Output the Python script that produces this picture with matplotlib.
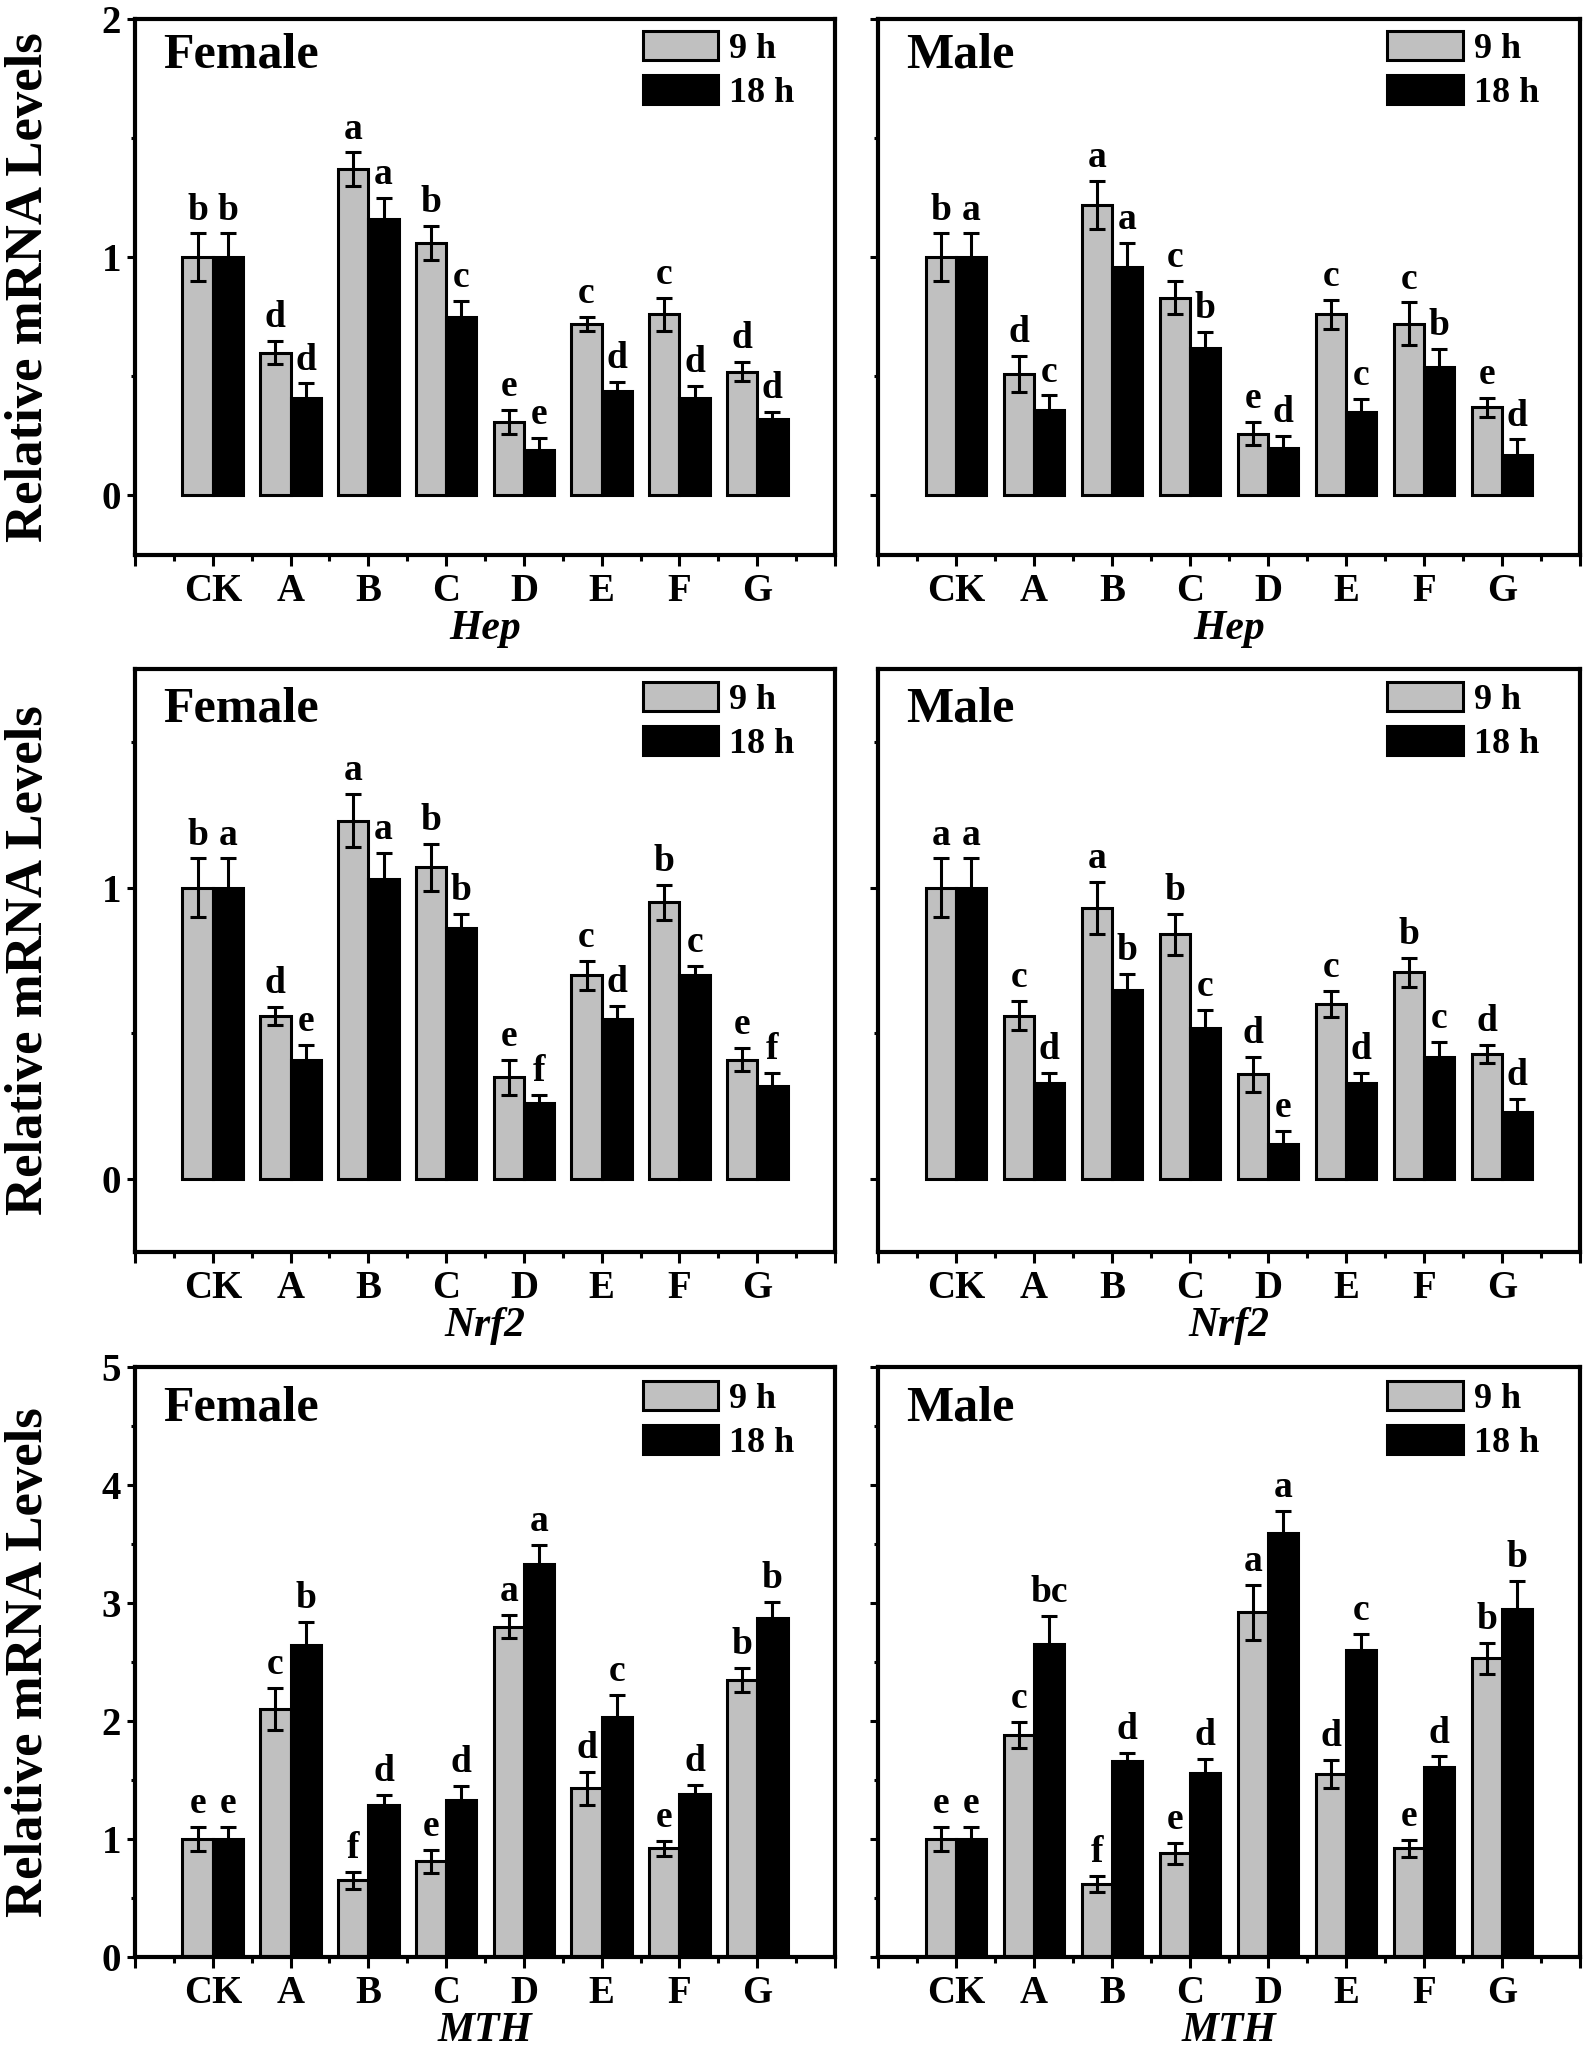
import matplotlib
matplotlib.use("Agg")
import matplotlib.pyplot as plt
import numpy as np
from matplotlib.ticker import FixedLocator

plt.rcParams['font.family'] = ['Liberation Serif', 'DejaVu Serif']
plt.rcParams['font.weight'] = 'bold'

categories = ['CK', 'A', 'B', 'C', 'D', 'E', 'F', 'G']
series_names = ['9 h', '18 h']

# Hep
hep_f_9 = [1.00, 0.60, 1.37, 1.06, 0.31, 0.72, 0.76, 0.52]
hep_f_9_err = [0.10, 0.05, 0.07, 0.07, 0.05, 0.03, 0.07, 0.04]
hep_f_18 = [1.00, 0.41, 1.16, 0.75, 0.19, 0.44, 0.41, 0.32]
hep_f_18_err = [0.10, 0.06, 0.09, 0.065, 0.05, 0.035, 0.05, 0.03]
hep_f_9_let = ['b', 'd', 'a', 'b', 'e', 'c', 'c', 'd']
hep_f_18_let = ['b', 'd', 'a', 'c', 'e', 'd', 'd', 'd']

hep_m_9 = [1.00, 0.51, 1.22, 0.83, 0.26, 0.76, 0.72, 0.37]
hep_m_9_err = [0.10, 0.075, 0.10, 0.07, 0.05, 0.06, 0.09, 0.04]
hep_m_18 = [1.00, 0.36, 0.96, 0.62, 0.20, 0.35, 0.54, 0.17]
hep_m_18_err = [0.10, 0.06, 0.10, 0.065, 0.05, 0.055, 0.075, 0.065]
hep_m_9_let = ['b', 'd', 'a', 'c', 'e', 'c', 'c', 'e']
hep_m_18_let = ['a', 'c', 'a', 'b', 'd', 'c', 'b', 'd']

# Nrf2
nrf_f_9 = [1.00, 0.56, 1.23, 1.07, 0.35, 0.70, 0.95, 0.41]
nrf_f_9_err = [0.10, 0.03, 0.09, 0.08, 0.06, 0.05, 0.06, 0.04]
nrf_f_18 = [1.00, 0.41, 1.03, 0.86, 0.26, 0.55, 0.70, 0.32]
nrf_f_18_err = [0.10, 0.05, 0.09, 0.05, 0.03, 0.045, 0.03, 0.045]
nrf_f_9_let = ['b', 'd', 'a', 'b', 'e', 'c', 'b', 'e']
nrf_f_18_let = ['a', 'e', 'a', 'b', 'f', 'd', 'c', 'f']

nrf_m_9 = [1.00, 0.56, 0.93, 0.84, 0.36, 0.60, 0.71, 0.43]
nrf_m_9_err = [0.10, 0.05, 0.09, 0.07, 0.06, 0.045, 0.05, 0.03]
nrf_m_18 = [1.00, 0.33, 0.65, 0.52, 0.12, 0.33, 0.42, 0.23]
nrf_m_18_err = [0.10, 0.035, 0.055, 0.06, 0.045, 0.035, 0.05, 0.045]
nrf_m_9_let = ['a', 'c', 'a', 'b', 'd', 'c', 'b', 'd']
nrf_m_18_let = ['a', 'd', 'b', 'c', 'e', 'd', 'c', 'd']

# MTH
mth_f_9 = [1.00, 2.10, 0.65, 0.81, 2.80, 1.43, 0.92, 2.35]
mth_f_9_err = [0.10, 0.18, 0.07, 0.10, 0.10, 0.14, 0.06, 0.10]
mth_f_18 = [1.00, 2.64, 1.29, 1.33, 3.33, 2.03, 1.38, 2.87]
mth_f_18_err = [0.10, 0.20, 0.08, 0.12, 0.16, 0.19, 0.075, 0.14]
mth_f_9_let = ['e', 'c', 'f', 'e', 'a', 'd', 'e', 'b']
mth_f_18_let = ['e', 'b', 'd', 'd', 'a', 'c', 'd', 'b']

mth_m_9 = [1.00, 1.88, 0.62, 0.88, 2.92, 1.55, 0.92, 2.53]
mth_m_9_err = [0.10, 0.11, 0.07, 0.09, 0.23, 0.12, 0.07, 0.13]
mth_m_18 = [1.00, 2.65, 1.66, 1.56, 3.59, 2.60, 1.61, 2.95]
mth_m_18_err = [0.10, 0.24, 0.07, 0.12, 0.19, 0.135, 0.09, 0.235]
mth_m_9_let = ['e', 'c', 'f', 'e', 'a', 'd', 'e', 'b']
mth_m_18_let = ['e', 'bc', 'd', 'd', 'a', 'c', 'd', 'b']

panels = [
    ('Female', 'Hep', hep_f_9, hep_f_9_err, hep_f_18, hep_f_18_err, hep_f_9_let, hep_f_18_let),
    ('Male', 'Hep', hep_m_9, hep_m_9_err, hep_m_18, hep_m_18_err, hep_m_9_let, hep_m_18_let),
    ('Female', 'Nrf2', nrf_f_9, nrf_f_9_err, nrf_f_18, nrf_f_18_err, nrf_f_9_let, nrf_f_18_let),
    ('Male', 'Nrf2', nrf_m_9, nrf_m_9_err, nrf_m_18, nrf_m_18_err, nrf_m_9_let, nrf_m_18_let),
    ('Female', 'MTH', mth_f_9, mth_f_9_err, mth_f_18, mth_f_18_err, mth_f_9_let, mth_f_18_let),
    ('Male', 'MTH', mth_m_9, mth_m_9_err, mth_m_18, mth_m_18_err, mth_m_9_let, mth_m_18_let),
]

W, H = 1594, 2054
fig = plt.figure(figsize=(W / 100, H / 100), dpi=100)

col_x = [(135, 835), (878, 1580)]
row_y = [(19, 555), (669, 1252), (1367, 1957)]
row_ylim = [(-0.25, 2.0), (-0.25, 1.75), (0, 5)]
row_major = [[0, 1, 2], [0, 1], [0, 1, 2, 3, 4, 5]]
row_minor = [[0.5, 1.5], [0.5, 1.5], [0.5, 1.5, 2.5, 3.5, 4.5]]

gray = '#c0c0c0'
w = 0.39
x = np.arange(1, len(categories) + 1)

for i, (sex, gene, v9, e9, v18, e18, l9, l18) in enumerate(panels):
    r, c = divmod(i, 2)
    x0, x1 = col_x[c]
    y0, y1 = row_y[r]
    ax = fig.add_axes([x0 / W, 1 - y1 / H, (x1 - x0) / W, (y1 - y0) / H])
    b1 = ax.bar(x - w / 2, v9, width=w, color=gray, edgecolor='black', linewidth=2.2, label=series_names[0], zorder=2)
    b2 = ax.bar(x + w / 2, v18, width=w, color='black', edgecolor='black', linewidth=2.2, label=series_names[1], zorder=2)
    ax.errorbar(x - w / 2, v9, yerr=e9, fmt='none', ecolor='black', elinewidth=2.2, capsize=6, capthick=2.2, zorder=3)
    ax.errorbar(x + w / 2, v18, yerr=e18, fmt='none', ecolor='black', elinewidth=2.2, capsize=6, capthick=2.2, zorder=3)
    for xi, v, e, l in zip(x - w / 2, v9, e9, l9):
        ax.annotate(l, xy=(xi, v + e), xytext=(0, 10), textcoords='offset points',
                    ha='center', va='baseline', fontsize=27, fontweight='bold')
    for xi, v, e, l in zip(x + w / 2, v18, e18, l18):
        ax.annotate(l, xy=(xi, v + e), xytext=(0, 10), textcoords='offset points',
                    ha='center', va='baseline', fontsize=27, fontweight='bold')

    ax.set_xlim(0, 9)
    ax.set_ylim(*row_ylim[r])
    ax.xaxis.set_major_locator(FixedLocator(list(range(0, 10))))
    ax.set_xticklabels([''] + categories + [''])
    ax.xaxis.set_minor_locator(FixedLocator([k + 0.5 for k in range(9)]))
    ax.yaxis.set_major_locator(FixedLocator(row_major[r]))
    ax.yaxis.set_minor_locator(FixedLocator(row_minor[r]))
    ax.tick_params(axis='x', which='major', direction='out', length=8, width=2.2, labelsize=28, pad=5)
    ax.tick_params(axis='x', which='minor', direction='out', length=4, width=2.2)
    ax.tick_params(axis='y', which='major', direction='out', length=6, width=2.2, labelsize=28, pad=4)
    ax.tick_params(axis='y', which='minor', direction='out', length=3, width=2.2)
    ax.tick_params(top=False, right=False, which='both')
    if c == 1:
        ax.tick_params(axis='y', labelleft=False)
    for sp in ax.spines.values():
        sp.set_linewidth(3)
    ax.set_xlabel(gene, fontsize=30, fontstyle='italic', fontweight='bold', labelpad=0)
    ax.text(0.04, 0.91, sex, transform=ax.transAxes, fontsize=36, fontweight='bold',
            ha='left', va='baseline')
    ax.legend(handles=[b1, b2], loc='upper left', bbox_to_anchor=(0.725, 0.977),
              frameon=False, fontsize=26, borderpad=0, handlelength=2.1, handleheight=0.86,
              labelspacing=0.25, handletextpad=0.3, borderaxespad=0)
    if c == 0:
        ax.text(-0.151, 0.5, 'Relative mRNA Levels', transform=ax.transAxes, rotation=90,
                ha='center', va='center', fontsize=38, fontweight='bold')

fig.savefig('out.png', dpi=100)
